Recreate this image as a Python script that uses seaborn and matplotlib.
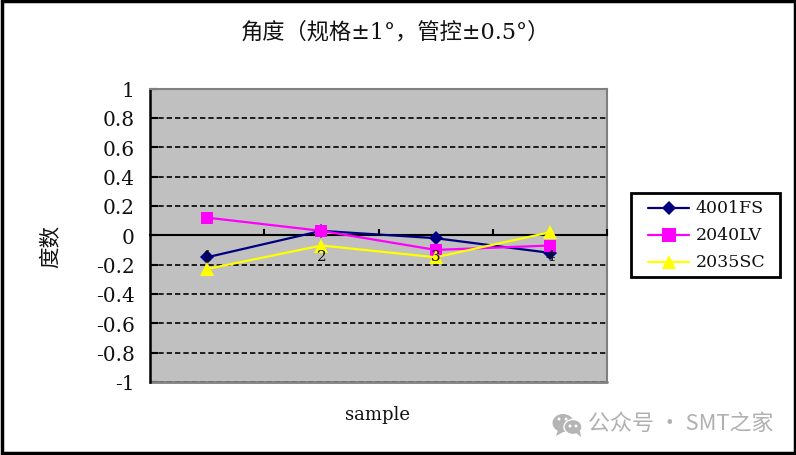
import matplotlib
matplotlib.use('Agg')
import matplotlib.pyplot as plt
import seaborn as sns
import pandas as pd
from matplotlib.patches import Ellipse, Rectangle, Polygon

samples = [1, 2, 3, 4]
vals_4001 = [-0.15, 0.03, -0.02, -0.12]
vals_2040 = [0.12, 0.03, -0.10, -0.07]
vals_2035 = [-0.23, -0.07, -0.15, 0.02]
series_names = ['4001FS', '2040LV', '2035SC']
y_ticks = [1, 0.8, 0.6, 0.4, 0.2, 0, -0.2, -0.4, -0.6, -0.8, -1]
y_labels = ['1', '0.8', '0.6', '0.4', '0.2', '0', '-0.2', '-0.4', '-0.6', '-0.8', '-1']
title = '角度（规格±1°，管控±0.5°）'

sns.set_theme(style='white')
plt.rcParams['font.family'] = ['DejaVu Serif', 'Noto Sans CJK SC']

df = pd.DataFrame({
    'sample': samples * 3,
    'value': vals_4001 + vals_2040 + vals_2035,
    'series': [n for n in series_names for _ in samples],
})

W, H = 796, 456
fig = plt.figure(figsize=(W / 100, H / 100), dpi=100)
ax = fig.add_axes([150 / W, 1 - 383 / H, 457 / W, 293.5 / H])
ax.set_facecolor('#c0c0c0')

colors = {'4001FS': '#000080', '2040LV': '#ff00ff', '2035SC': '#ffff00'}
markers = {'4001FS': 'D', '2040LV': 's', '2035SC': '^'}
sizes = {'4001FS': 7, '2040LV': 9, '2035SC': 10}

sns.lineplot(data=df, x='sample', y='value', hue='series', style='series',
             palette=colors, markers=markers, dashes=False, linewidth=1.6,
             markersize=8, markeredgewidth=0, ax=ax, legend=False, zorder=5)
for line, name in zip(ax.get_lines(), series_names):
    line.set_markersize(sizes[name])

ax.set_xlim(0.5, 4.5)
ax.set_ylim(-1, 1)
ax.set_xlabel('')
ax.set_ylabel('')

# grid lines at every tick, solid zero axis comes from the bottom spine
ax.yaxis.grid(True, color='black', linestyle=(0, (3.2, 1.8)), linewidth=1.2)
ax.set_axisbelow(True)
ax.set_yticks(y_ticks)
ax.set_yticklabels(y_labels, fontsize=14.5, color='#111111')
ax.tick_params(axis='y', direction='in', length=6, width=1.5, color='black',
               left=True, pad=11)

ax.spines['bottom'].set_position(('data', 0))
ax.spines['bottom'].set_color('black')
ax.spines['bottom'].set_linewidth(1.5)
ax.spines['left'].set_color('black')
ax.spines['left'].set_linewidth(1.8)
ax.spines['top'].set_color('#808080')
ax.spines['top'].set_linewidth(1.5)
ax.spines['right'].set_color('#808080')
ax.spines['right'].set_linewidth(1.5)
ax.axhline(-1, color='#808080', linewidth=2, clip_on=False, zorder=1)

# ticks between categories, labels on the categories and on top of the lines
ax.set_xticks([1.5, 2.5, 3.5, 4.5])
ax.set_xticklabels([])
ax.tick_params(axis='x', which='major', direction='in', length=4, width=1.5,
               color='black', bottom=True)
ax.set_xticks(samples, minor=True)
ax.set_xticklabels([str(s) for s in samples], minor=True, fontsize=11, color='#111111')
ax.tick_params(axis='x', which='minor', length=0, pad=10)
ax.xaxis.set_zorder(6)

fig.text(395 / W, 1 - 33 / H, title, ha='center', va='center', fontsize=16, color='#111111')
fig.text(377 / W, 1 - 415 / H, 'sample', ha='center', va='center', fontsize=13, color='#111111')
fig.text(50 / W, 1 - 246 / H, '度数', ha='center', va='center', rotation=90, fontsize=15.5, color='#111111')

# overlay in pixel coordinates for legend box, frame and watermark
ov = fig.add_axes([0, 0, 1, 1], zorder=10)
ov.set_xlim(0, W)
ov.set_ylim(H, 0)
ov.axis('off')
ov.add_patch(Rectangle((1.5, 1.5), W - 3, H - 3, fill=False, edgecolor='black', linewidth=2.5))
ov.add_patch(Rectangle((630.5, 194), 149, 84, facecolor='white', edgecolor='black', linewidth=2))

for name, y in zip(series_names, [208.5, 236, 263]):
    ov.plot([648, 689], [y, y], color=colors[name], linewidth=1.6)
    ov.plot([668.5], [y], color=colors[name], marker=markers[name],
            markersize=sizes[name] + (1.5 if name == '2040LV' else 0), markeredgewidth=0)
    ov.text(696, y, name, ha='left', va='center', fontsize=12.5, color='#111111')

icon = '#b4b4b4'
ov.add_patch(Ellipse((563, 424), 21, 18, color=icon, linewidth=0))
ov.add_patch(Polygon([[558, 431], [556, 437], [565, 432]], color=icon, linewidth=0))
ov.add_patch(Ellipse((573, 428), 18, 15, facecolor=icon, edgecolor='white', linewidth=1))
ov.add_patch(Polygon([[576, 434], [581, 438], [580, 432]], color=icon, linewidth=0))
for ex, ey in [(559, 420), (566, 420), (570, 427), (576, 427)]:
    ov.add_patch(Ellipse((ex, ey), 3, 3, color='white', linewidth=0))
ov.text(588, 424, '公众号 · SMT之家', ha='left', va='center', fontsize=15.8,
        color='#b0b0b0', family=['Noto Sans CJK SC', 'DejaVu Sans'])

fig.savefig('out.png', dpi=100, facecolor='white')
